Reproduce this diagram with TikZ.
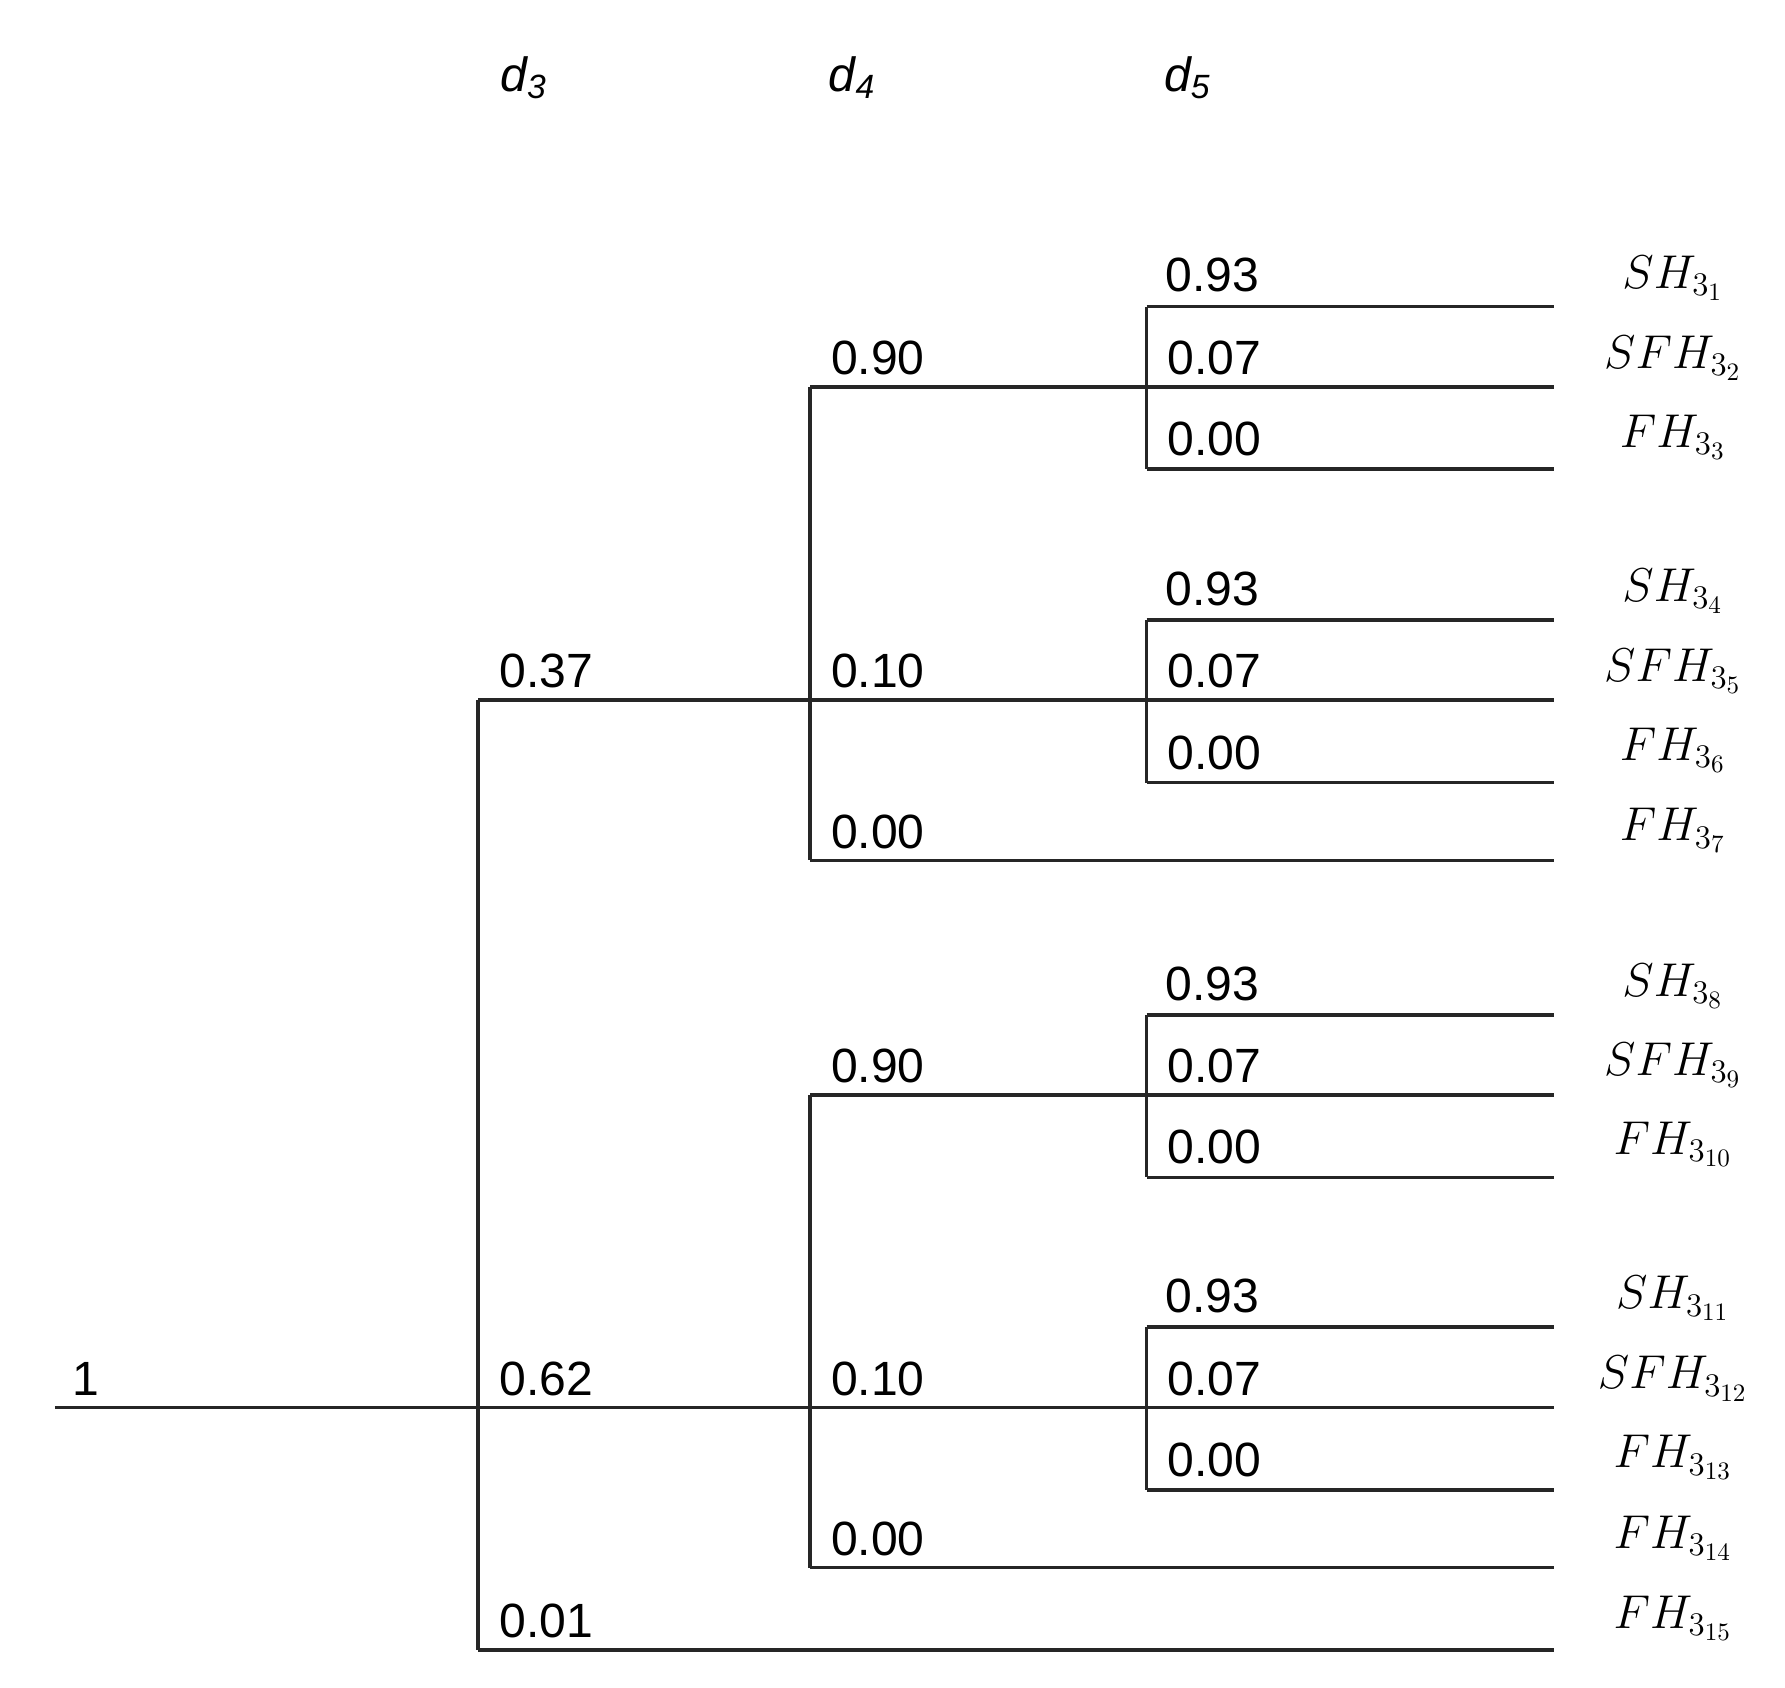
\documentclass[tikz,border=0pt]{standalone}
\usepackage{fontspec}
\setmainfont{Liberation Sans}
\begin{document}
\begin{tikzpicture}[x=0.5pt,y=-0.5pt,
  ln/.style={line width=1.6pt,color=black!85},
  lab/.style={anchor=south west,inner sep=0pt,font=\fontsize{21}{25}\selectfont},
  leaf/.style={anchor=center,inner sep=0pt,font=\fontsize{21}{25}\selectfont},
  hd/.style={anchor=base west,inner sep=0pt,font=\fontsize{21}{25}\selectfont\itshape}]
\useasboundingbox (0,0) rectangle (1560,1475);
\node[hd] (h3) at (437,80) {d\textsubscript{3}};
\node[hd] (h4) at (724,80) {d\textsubscript{4}};
\node[hd] (h5) at (1017,80) {d\textsubscript{5}};
% root
\coordinate (r0) at (48,1230);
\coordinate (a) at (418,1230);
\draw[ln] (r0) -- (a);
\node[lab] (l1) at (63,1220) {1};
% d3
\coordinate (a1) at (418,612); \coordinate (a3) at (418,1442);
\draw[ln] (a1) -- (a3);
\coordinate (b1) at (708,612); \coordinate (b2) at (708,1230); \coordinate (e15) at (1358,1442);
\draw[ln] (a1) -- (b1); \draw[ln] (a) -- (b2); \draw[ln] (a3) -- (e15);
\node[lab] at (436,602) {0.37};
\node[lab] at (436,1220) {0.62};
\node[lab] at (436,1432) {0.01};
% d4 groups
\foreach \top/\mid/\bot in {338/612/752, 957/1230/1370}{
  \coordinate (ct) at (708,\top); \coordinate (cb) at (708,\bot);
  \draw[ln] (ct) -- (cb);
  \coordinate (dt) at (1002,\top); \coordinate (dm) at (1002,\mid); \coordinate (eb) at (1358,\bot);
  \draw[ln] (ct) -- (dt); \draw[ln] (708,\mid) -- (dm); \draw[ln] (cb) -- (eb);
  \node[lab] at (726,\top-10) {0.90};
  \node[lab] at (726,\mid-10) {0.10};
  \node[lab] at (726,\bot-10) {0.00};
}
% d5 groups
\foreach \m in {338,612,957,1230}{
  \coordinate (ft) at (1002,\m-70); \coordinate (fb) at (1002,\m+72);
  \draw[ln] (ft) -- (fb);
  \draw[ln] (ft) -- (1358,\m-70);
  \draw[ln] (1002,\m) -- (1358,\m);
  \draw[ln] (fb) -- (1358,\m+72);
  \node[lab] at (1018,\m-82) {0.93};
  \node[lab] at (1020,\m-10) {0.07};
  \node[lab] at (1020,\m+61) {0.00};
}
% leaves
\foreach \y/\t in {243/{SH_{3_1}},313/{SFH_{3_2}},382/{FH_{3_3}},
  517/{SH_{3_4}},587/{SFH_{3_5}},656/{FH_{3_6}},726/{FH_{3_7}},
  862/{SH_{3_8}},931/{SFH_{3_9}},1000/{FH_{3_{10}}},
  1135/{SH_{3_{11}}},1205/{SFH_{3_{12}}},1274/{FH_{3_{13}}},1344/{FH_{3_{14}}},1414/{FH_{3_{15}}}}{
  \node[leaf] at (1462,\y) {$\t$};
}
\end{tikzpicture}
\end{document}
